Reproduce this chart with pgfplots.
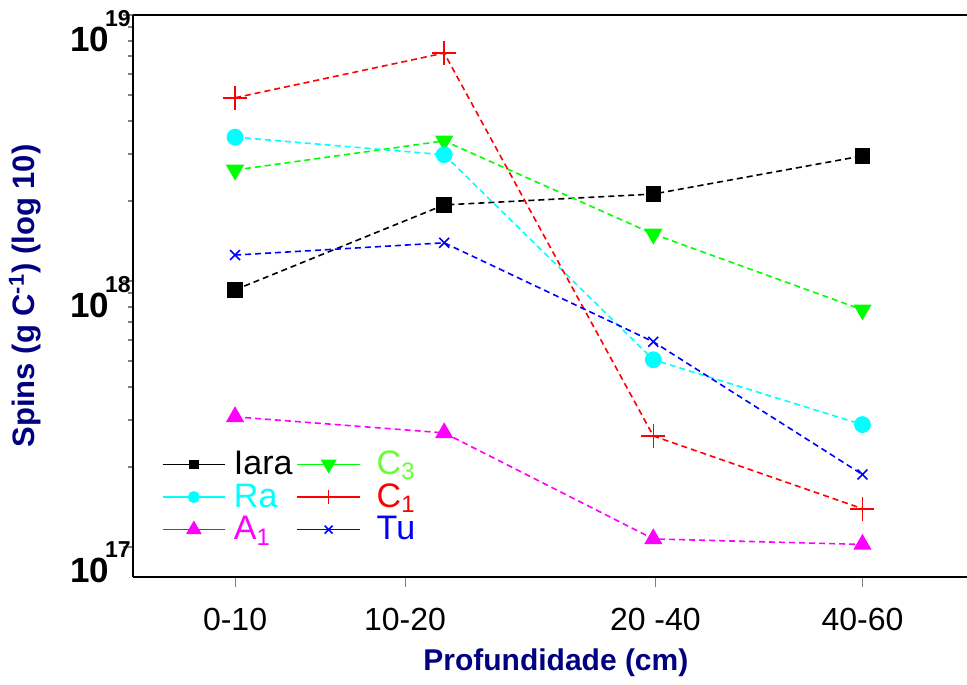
\documentclass[border=0pt]{standalone}
\usepackage{fontspec}
\setmainfont{Liberation Sans}
\usepackage{pgfplots}
\pgfplotsset{compat=1.18}
\definecolor{navy}{RGB}{0,0,128}
\definecolor{lgreen}{RGB}{102,255,51}
\definecolor{pgreen}{RGB}{0,255,0}
\definecolor{pcyan}{RGB}{0,255,255}
\definecolor{pmag}{RGB}{255,0,255}
\definecolor{dmag}{RGB}{200,0,200}
\definecolor{pred}{RGB}{255,0,0}
\definecolor{pblue}{RGB}{0,0,255}
\newcommand{\yl}[1]{\bfseries 10\kern-2pt\raisebox{12.5pt}{\fontsize{11.5}{11.5}\selectfont\bfseries #1}}
\pgfplotsset{lim/.style={legend image code/.code={\draw[#1, solid, line width=0.8pt] (0cm,0cm) -- (1.1cm,0cm); \draw[##1, solid] plot coordinates {(0.55cm,0cm)};}}}
\begin{document}
\begin{tikzpicture}
\path[use as bounding box] (-66.5pt,-53.5pt) rectangle (417pt,288.5pt);
\begin{axis}[
  scale only axis, width=417pt, height=281pt,
  at={(0,0)}, anchor=south west,
  xmin=0.512, xmax=4.5,
  ymode=log, ymin=7.7e16, ymax=1e19,
  axis lines*=left,
  axis line style={line width=1pt},
  tick align=outside,
  major tick length=5pt, minor tick length=2.5pt,
  xtick={1,1.813,3.01,4},
  xticklabels={0-10,10-20,20 -40,40-60},
  x tick style={line width=0.5pt},
  y tick style={line width=1pt},
  xticklabel style={font=\fontsize{16}{16}\selectfont, yshift=-7pt},
  ytick={1e17,1e18,1e19},
  yticklabels={\yl{17},\yl{18},\yl{19}},
  yticklabel style={font=\fontsize{17.5}{17.5}\selectfont, inner sep=0pt, anchor=east, yshift=-8pt, xshift=4pt},
  every axis x label/.style={at={(rel axis cs:0.507,-0.153)}, anchor=center},
  every axis y label/.style={at={(rel axis cs:-0.1295,0.5)}, rotate=90, anchor=center},
  xlabel={\textcolor{navy}{\bfseries\fontsize{15}{15}\selectfont Profundidade (cm)}},
  ylabel={\textcolor{navy}{\bfseries\fontsize{15.5}{15.5}\selectfont Spins (g C\textsuperscript{-1}) (log 10)}},
  legend columns=2,
  legend cell align=left,
  legend style={draw=none, fill=none, at={(rel axis cs:0.034,0.232)}, anchor=north west,
    font=\fontsize{17}{17}\selectfont, row sep=-1pt, inner sep=0pt},
  dsh/.style={line width=0.8pt, dash pattern=on 3pt off 2pt, mark options={solid}},
]
\draw[line width=1pt] (rel axis cs:0,1) -- (rel axis cs:1,1);
\addplot[dsh, color=black, mark=square*, mark size=3.5pt, lim=black, legend image post style={mark size=2pt}] coordinates {(1,9.25e17) (2,1.93e18) (3,2.12e18) (4,2.95e18)};
\addlegendentry{\hspace{2pt}\textcolor{black}{Iara}\hspace{24pt}}
\addplot[dsh, color=pgreen, mark=triangle*, mark size=4.5pt, mark options={solid, rotate=180}, lim=pgreen, legend image post style={mark size=3.8pt}] coordinates {(1,2.61e18) (2,3.36e18) (3,1.50e18) (4,7.78e17)};
\addlegendentry{\hspace{6pt}\textcolor{lgreen}{C\textsubscript{3}}}
\addplot[dsh, color=pcyan, mark=*, mark size=3.8pt, lim=pcyan, legend image post style={mark size=2.6pt}] coordinates {(1,3.47e18) (2,2.98e18) (3,5.05e17) (4,2.88e17)};
\addlegendentry{\hspace{2pt}\textcolor{pcyan}{Ra}}
\addplot[dsh, color=pred, mark=+, mark size=6pt, lim=pred, legend image post style={mark size=3.5pt}] coordinates {(1,4.88e18) (2,7.19e18) (3,2.61e17) (4,1.39e17)};
\addlegendentry{\hspace{6pt}\textcolor{pred}{C\textsubscript{1}}}
\addplot[dsh, color=pmag, mark=triangle*, mark size=4.5pt, lim=dmag, legend image post style={mark size=3.8pt}] coordinates {(1,3.08e17) (2,2.68e17) (3,1.07e17) (4,1.02e17)};
\addlegendentry{\hspace{2pt}\textcolor{pmag}{A\textsubscript{1}}}
\addplot[dsh, color=pblue, mark=x, mark size=3.5pt, lim=pblue, legend image post style={mark size=2.8pt}] coordinates {(1,1.25e18) (2,1.39e18) (3,5.9e17) (4,1.87e17)};
\addlegendentry{\hspace{6pt}\textcolor{pblue}{Tu}}
\end{axis}
\end{tikzpicture}
\end{document}
